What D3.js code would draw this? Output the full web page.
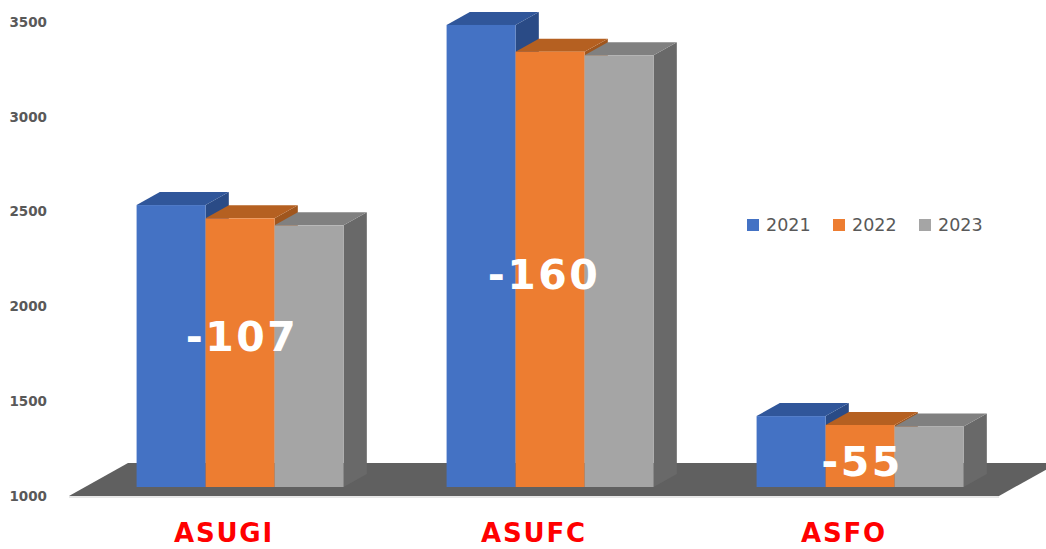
<!DOCTYPE html>
<html>
<head>
<meta charset="utf-8">
<script src="https://cdn.jsdelivr.net/npm/d3@7/dist/d3.min.js"></script>
<style>
  html, body { margin: 0; padding: 0; background: #ffffff; }
  svg { display: block; }
</style>
</head>
<body>
<svg id="chart" width="1046" height="549"></svg>
<script>
// ---- data ----
const categories = ["ASUGI", "ASUFC", "ASFO"];
const years = ["2021", "2022", "2023"];
const values2021 = [2487, 3437, 1374];
const values2022 = [2417, 3296, 1327];
const values2023 = [2380, 3277, 1319];
const tickValues = [1000, 1500, 2000, 2500, 3000, 3500];
const diffLabels = ["-107", "-160", "-55"];

const seriesValues = [values2021, values2022, values2023];

// ---- layout ----
const floorFront = [69, 999];      // front edge of the floor, x range
const floorY = 496;                // y of the floor front edge (value 1000)
const floorDepth = [59, -33];      // oblique depth vector of the whole floor
const barNear = 9 / 33, barFar = 22 / 33; // bar depth position within floor
const labelLevels = [1790, 2120, 1130];   // vertical anchor of the difference labels (axis units)

const frontColors = ["#4472C4", "#ED7D31", "#A5A5A5"];
const topColors   = ["#30569A", "#B56021", "#808080"];
const sideColors  = ["#2A4B86", "#A0561E", "#696969"];

const svg = d3.select("#chart");

// value scale measured on the front plane of the floor
const y = d3.scaleLinear().domain([1000, 3500]).range([floorY, 22]);

// category bands along the floor front edge
const x0 = d3.scaleBand().domain(categories).range(floorFront).padding(0);
const x1 = d3.scaleBand().domain(years)
  .range([x0.bandwidth() / 2 - 103.5, x0.bandwidth() / 2 + 103.5]).padding(0);

const nearOff = [floorDepth[0] * barNear, floorDepth[1] * barNear];
const farOff = [floorDepth[0] * barFar, floorDepth[1] * barFar];
const dOff = [farOff[0] - nearOff[0], farOff[1] - nearOff[1]];

// ---- floor ----
const fl = floorFront[0], fr = floorFront[1];
svg.append("polygon")
  .attr("points", [
    [fl, floorY],
    [fl + floorDepth[0], floorY + floorDepth[1]],
    [fr + floorDepth[0], floorY + floorDepth[1]],
    [fr, floorY]
  ].map(p => p.join(",")).join(" "))
  .attr("fill", "#606060");
svg.append("line")
  .attr("x1", fl).attr("x2", fr).attr("y1", floorY + 1).attr("y2", floorY + 1)
  .attr("stroke", "#d0d0d0").attr("stroke-width", 1);

// ---- axis labels ----
const axis = d3.axisLeft(y).tickValues(tickValues).tickSize(0).tickPadding(0)
  .tickFormat(d3.format("d"));
const gAxis = svg.append("g").attr("transform", "translate(47,0)").call(axis);
gAxis.select(".domain").remove();
gAxis.selectAll("text")
  .attr("font-family", "'DejaVu Sans', Verdana, sans-serif")
  .attr("font-weight", "bold")
  .attr("font-size", 13.5)
  .attr("fill", "#595959");

// ---- bars ----
const pts = a => a.map(p => p.join(",")).join(" ");
categories.forEach((cat, ci) => {
  const g = svg.append("g");
  years.forEach((yr, si) => {
    const v = seriesValues[si][ci];
    const xa = x0(cat) + x1(yr) + nearOff[0];
    const xb = xa + x1.bandwidth();
    const yt = y(v) + nearOff[1];
    const yb = y(1000) + nearOff[1];
    // side face
    g.append("polygon")
      .attr("points", pts([[xb, yt], [xb + dOff[0], yt + dOff[1]], [xb + dOff[0], yb + dOff[1]], [xb, yb]]))
      .attr("fill", sideColors[si]);
    // top face
    g.append("polygon")
      .attr("points", pts([[xa, yt], [xb, yt], [xb + dOff[0], yt + dOff[1]], [xa + dOff[0], yt + dOff[1]]]))
      .attr("fill", topColors[si]);
    // front face
    g.append("rect")
      .attr("x", xa).attr("y", yt)
      .attr("width", x1.bandwidth()).attr("height", yb - yt)
      .attr("fill", frontColors[si]);
  });
});

// ---- difference labels ----
svg.selectAll("text.diff")
  .data(categories)
  .join("text")
  .attr("class", "diff")
  .attr("x", (d, i) => x0(d) + x0.bandwidth() / 2 + nearOff[0] + (i === 1 ? -6 : 2))
  .attr("y", (d, i) => y(labelLevels[i]) + nearOff[1])
  .attr("text-anchor", "middle")
  .attr("dominant-baseline", "central")
  .attr("font-family", "'DejaVu Sans', Verdana, sans-serif")
  .attr("font-weight", "bold")
  .attr("font-size", 41)
  .attr("letter-spacing", 2.5)
  .attr("fill", "#ffffff")
  .text((d, i) => diffLabels[i]);

// ---- category labels ----
svg.selectAll("text.cat")
  .data(categories)
  .join("text")
  .attr("class", "cat")
  .attr("x", d => x0(d) + x0.bandwidth() / 2)
  .attr("y", 542)
  .attr("text-anchor", "middle")
  .attr("font-family", "'DejaVu Sans', Verdana, sans-serif")
  .attr("font-weight", "bold")
  .attr("font-size", 26)
  .attr("letter-spacing", 1.8)
  .attr("fill", "#FF0000")
  .text(d => d);

// ---- legend ----
const legend = svg.append("g").attr("transform", "translate(747,225)");
years.forEach((yr, i) => {
  const item = legend.append("g").attr("transform", `translate(${i * 86},0)`);
  item.append("rect").attr("x", 0).attr("y", -6).attr("width", 12).attr("height", 12)
    .attr("fill", frontColors[i]);
  item.append("text").attr("x", 19).attr("y", 0)
    .attr("dominant-baseline", "central")
    .attr("font-family", "'DejaVu Sans', Verdana, sans-serif")
    .attr("font-size", 17.5)
    .attr("fill", "#595959")
    .text(yr);
});
</script>
</body>
</html>
